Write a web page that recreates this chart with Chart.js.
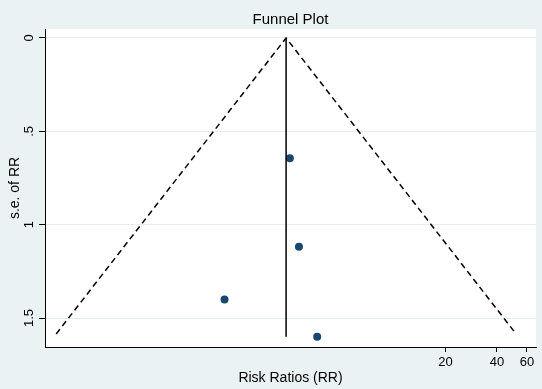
<!DOCTYPE html>
<html>
<head>
<meta charset="utf-8">
<script src="https://cdn.jsdelivr.net/npm/chart.js@4.4.1/dist/chart.umd.min.js"></script>
<style>
  body { margin: 0; background: #eaf2f3; }
  #wrap { width: 542px; height: 389px; }
</style>
</head>
<body>
<div id="wrap"><canvas id="funnel" width="542" height="389"></canvas></div>
<script>
// study estimates
var studyRR = [2.44, 2.76, 1.01, 3.53];
var studySE = [0.644, 1.118, 1.40, 1.60];

// pooled estimate (vertical line) and pseudo 95% limits
var pooledRR = 2.32;
var pooledSE = [0, 1.60];
var funnelRR = [0.104, 2.32, 51.8];
var funnelSE = [1.585, 0, 1.585];

var xTicks = [20, 40, 60];
var yTicks = [0, 0.5, 1, 1.5];
var yTickLabels = ['0', '.5', '1', '1.5'];

var FONT = "'Liberation Sans', Arial, sans-serif";

var pointData = [];
for (var i = 0; i < studyRR.length; i++) {
    pointData.push({x: studyRR[i], y: studySE[i]});
}
var funnelData = [];
for (var i = 0; i < funnelRR.length; i++) {
    funnelData.push({x: funnelRR[i], y: funnelSE[i]});
}
var pooledData = [{x: pooledRR, y: pooledSE[0]}, {x: pooledRR, y: pooledSE[1]}];

/* plot area background + texts drawn by hand (Stata look) */
var stataLook = {
    id: 'stataLook',
    beforeDraw: function(chart) {
        var ctx = chart.ctx, a = chart.chartArea;
        ctx.save();
        ctx.fillStyle = '#eaf2f3';
        ctx.fillRect(0, 0, chart.width, chart.height);
        ctx.fillStyle = '#ffffff';
        ctx.fillRect(a.left, a.top, a.right - a.left, a.bottom - a.top);
        ctx.restore();
    },
    afterDraw: function(chart) {
        var ctx = chart.ctx, a = chart.chartArea;
        var cx = (a.left + a.right) / 2;
        var cy = (a.top + a.bottom) / 2;
        ctx.save();
        ctx.fillStyle = '#000';
        ctx.textAlign = 'center';
        ctx.textBaseline = 'middle';
        ctx.font = '15px ' + FONT;
        ctx.fillText('Funnel Plot', cx, 19.5);
        ctx.font = '14px ' + FONT;
        ctx.fillText('Risk Ratios (RR)', cx, 378);
        ctx.save();
        ctx.translate(15, cy);
        ctx.rotate(-Math.PI / 2);
        ctx.fillText('s.e. of RR', 0, 0);
        ctx.restore();
        // y tick labels, rotated like Stata
        var ys = chart.scales.y;
        ctx.font = '13px ' + FONT;
        for (var i = 0; i < yTicks.length; i++) {
            var py = ys.getPixelForValue(yTicks[i]);
            ctx.save();
            ctx.translate(29.5, py);
            ctx.rotate(-Math.PI / 2);
            ctx.fillText(yTickLabels[i], 0, 0);
            ctx.restore();
        }
        ctx.restore();
    }
};

var ctx = document.getElementById('funnel');
var funnelChart = new Chart(ctx, {
    type: 'scatter',
    data: {
        datasets: [
            {
                label: 'funnel',
                data: funnelData,
                showLine: true,
                borderColor: '#000',
                borderWidth: 1.5,
                borderDash: [6, 4],
                pointRadius: 0,
                fill: false
            },
            {
                label: 'pooled',
                data: pooledData,
                showLine: true,
                borderColor: '#000',
                borderWidth: 1.5,
                pointRadius: 0,
                fill: false
            },
            {
                label: 'studies',
                data: pointData,
                backgroundColor: '#1a476f',
                borderColor: '#1a476f',
                pointRadius: 4,
                pointBorderWidth: 0
            }
        ]
    },
    options: {
        responsive: false,
        animation: false,
        layout: { padding: { top: 29, right: 6, left: 0, bottom: 0 } },
        plugins: {
            legend: { display: false },
            title: { display: false },
            tooltip: { enabled: false }
        },
        scales: {
            x: {
                type: 'logarithmic',
                min: 0.0894,
                max: 67.8,
                afterBuildTicks: function(scale) {
                    scale.ticks = xTicks.map(function(v) { return {value: v}; });
                },
                afterFit: function(scale) { scale.height = 42; },
                grid: {
                    display: true,
                    drawOnChartArea: false,
                    drawTicks: true,
                    tickLength: 5,
                    tickColor: '#000'
                },
                border: { display: true, color: '#000', width: 1 },
                ticks: {
                    autoSkip: false,
                    maxRotation: 0,
                    minRotation: 0,
                    padding: 3,
                    color: '#000',
                    font: { family: FONT, size: 13 },
                    callback: function(v) { return String(v); }
                }
            },
            y: {
                type: 'linear',
                reverse: true,
                min: -0.048,
                max: 1.655,
                afterBuildTicks: function(scale) {
                    scale.ticks = yTicks.map(function(v) { return {value: v}; });
                },
                afterFit: function(scale) { scale.width = 45; },
                grid: {
                    display: true,
                    color: '#e6eef0',
                    lineWidth: 1,
                    drawTicks: true,
                    tickLength: 6,
                    tickColor: '#000'
                },
                border: { display: true, color: '#000', width: 1 },
                ticks: { display: false }
            }
        }
    },
    plugins: [stataLook]
});
</script>
</body>
</html>
